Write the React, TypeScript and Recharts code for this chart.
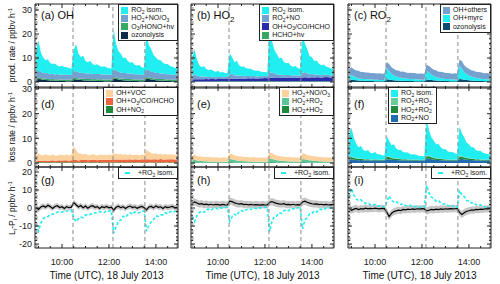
import React from "react";
import { ComposedChart, Area, Line, XAxis, YAxis, ReferenceLine } from "recharts";

const FONT = "'Liberation Sans', Arial, Helvetica, sans-serif";

// time grid (hours UTC)
const times = [
  8.9, 9.0, 9.1, 9.2, 9.3, 9.4, 9.5, 9.6, 9.7, 9.8, 9.9, 10.0, 10.1, 10.2, 10.3, 10.4,
  10.5, 10.6, 10.7, 10.8, 10.9, 11.0, 11.1, 11.2, 11.3, 11.4, 11.5, 11.6, 11.7, 11.8, 11.9, 12.0, 12.1,
  12.2, 12.3, 12.4, 12.5, 12.6, 12.7, 12.8, 12.9, 13.0, 13.1, 13.2, 13.3, 13.4, 13.5,
  13.6, 13.7, 13.8, 13.9, 14.0, 14.1, 14.2, 14.3, 14.4, 14.5, 14.6, 14.7, 14.8, 14.9,
];

// flight leg boundaries (dashed lines)
const legBounds = [8.93, 10.47, 12.17, 13.53, 14.9];
const timeDomain = [8.85, 14.94];
const timeTicks = [10, 12, 14];
const timeMinor = [9, 9.5, 10.5, 11, 11.5, 12.5, 13, 13.5, 14.5];

const rateTicks = [0, 10, 20, 30];
const rateMinorTop = [-2, 2, 4, 6, 8, 12, 14, 16, 18, 22, 24, 26, 28, 32];
const rateMinorMid = [2, 4, 6, 8, 12, 14, 16, 18, 22, 24, 26, 28];
const diffTicks = [-20, -10, 0, 10, 20];
const diffMinor = [-18, -16, -14, -12, -8, -6, -4, -2, 2, 4, 6, 8, 12, 14, 16, 18];

// (a) OH production
const aOzo = [
  1.0, 1.3, 1.1, 0.9, 0.8, 0.7, 0.6, 0.6, 0.5, 0.5, 0.4, 0.4, 0.4, 0.3, 0.3, 0.3,
  1.2, 1.0, 0.9, 0.8, 0.7, 0.6, 0.6, 0.5, 0.5, 0.5, 0.4, 0.4, 0.4, 0.3, 0.3, 0.3, 0.3,
  1.4, 1.2, 1.0, 0.8, 0.7, 0.6, 0.5, 0.5, 0.4, 0.4, 0.4, 0.3, 0.3, 0.3,
  1.5, 1.3, 1.0, 0.9, 0.7, 0.6, 0.6, 0.5, 0.5, 0.4, 0.4, 0.3, 0.3, 0.3,
];
const aPhot = [
  0.5, 0.6, 0.6, 0.5, 0.6, 0.6, 0.5, 0.6, 0.6, 0.6, 0.5, 0.6, 0.6, 0.6, 0.6, 0.6,
  0.6, 0.7, 0.6, 0.6, 0.7, 0.6, 0.6, 0.7, 0.6, 0.7, 0.6, 0.7, 0.7, 0.6, 0.7, 0.7, 0.6,
  0.7, 0.7, 0.6, 0.7, 0.7, 0.6, 0.7, 0.7, 0.7, 0.6, 0.7, 0.7, 0.6, 0.7,
  0.7, 0.6, 0.7, 0.7, 0.6, 0.7, 0.6, 0.7, 0.6, 0.6, 0.7, 0.6, 0.6, 0.6,
];
const aHo2 = [
  2.4, 2.8, 2.6, 2.3, 2.2, 2.4, 2.1, 2.2, 2.0, 2.2, 2.1, 2.0, 2.2, 2.0, 2.1, 2.0,
  2.6, 2.9, 2.6, 2.4, 2.5, 2.3, 2.2, 2.4, 2.2, 2.1, 2.3, 2.2, 2.0, 2.2, 2.1, 2.0, 2.1,
  2.8, 3.1, 2.7, 2.5, 2.4, 2.5, 2.3, 2.2, 2.4, 2.2, 2.1, 2.2, 2.0, 2.1,
  2.9, 3.0, 2.7, 2.6, 2.4, 2.5, 2.3, 2.3, 2.2, 2.2, 2.1, 2.2, 2.0, 2.1,
];
const aIsom = [
  9.5, 12.5, 8.0, 6.5, 5.5, 5.8, 4.6, 4.2, 4.5, 3.6, 3.5, 3.8, 3.0, 3.2, 2.8, 2.6,
  9.0, 11.2, 7.8, 6.6, 7.0, 5.2, 4.8, 5.3, 4.2, 3.8, 4.1, 3.4, 3.3, 3.5, 2.9, 2.7, 2.6,
  17.0, 11.0, 8.6, 7.9, 6.2, 6.5, 5.2, 4.6, 4.8, 3.9, 3.7, 3.9, 3.1, 2.9,
  14.4, 10.5, 9.2, 7.0, 6.5, 5.4, 5.6, 4.5, 4.2, 4.3, 3.5, 3.3, 3.0, 2.8,
];

// (b) HO2 production
const bHcho = [
  0.2, 0.2, 0.2, 0.3, 0.2, 0.2, 0.3, 0.2, 0.2, 0.3, 0.2, 0.3, 0.2, 0.3, 0.3, 0.2,
  0.3, 0.3, 0.2, 0.3, 0.3, 0.3, 0.2, 0.3, 0.3, 0.3, 0.3, 0.2, 0.3, 0.3, 0.3, 0.3, 0.3,
  0.3, 0.3, 0.3, 0.3, 0.2, 0.3, 0.3, 0.3, 0.3, 0.3, 0.2, 0.3, 0.3, 0.3,
  0.3, 0.3, 0.3, 0.2, 0.3, 0.3, 0.3, 0.3, 0.2, 0.3, 0.3, 0.3, 0.2, 0.3,
];
const bOh = [
  0.8, 0.9, 0.9, 0.8, 0.9, 0.9, 1.0, 0.9, 1.0, 1.0, 0.9, 1.0, 1.0, 1.1, 1.0, 1.1,
  1.1, 1.2, 1.1, 1.1, 1.2, 1.2, 1.1, 1.2, 1.3, 1.2, 1.3, 1.3, 1.2, 1.3, 1.3, 1.4, 1.3,
  1.4, 1.5, 1.4, 1.4, 1.5, 1.5, 1.4, 1.5, 1.6, 1.5, 1.5, 1.6, 1.5, 1.6,
  1.6, 1.7, 1.6, 1.6, 1.7, 1.6, 1.7, 1.7, 1.6, 1.7, 1.8, 1.7, 1.7, 1.8,
];
const bRo2no = [
  1.6, 2.0, 1.6, 1.3, 1.2, 1.1, 1.0, 1.0, 0.9, 1.0, 0.9, 0.8, 0.9, 0.8, 0.8, 0.8,
  1.8, 1.9, 1.5, 1.3, 1.2, 1.1, 1.1, 1.0, 1.0, 0.9, 0.9, 0.9, 0.8, 0.9, 0.8, 0.8, 0.8,
  2.2, 2.3, 1.8, 1.5, 1.3, 1.2, 1.1, 1.1, 1.0, 1.0, 0.9, 0.9, 0.9, 0.8,
  2.0, 2.2, 1.7, 1.4, 1.3, 1.2, 1.1, 1.0, 1.0, 1.0, 0.9, 0.9, 0.8, 0.8,
];
const bIsom = [
  8.0, 10.4, 6.8, 4.6, 4.0, 4.4, 3.1, 2.8, 3.2, 2.4, 2.2, 2.6, 1.9, 2.0, 1.7, 1.5,
  8.8, 7.0, 5.4, 6.2, 4.3, 3.8, 4.1, 3.2, 2.9, 3.1, 2.4, 2.3, 2.5, 1.9, 1.8, 1.7, 1.6,
  19.0, 13.0, 9.8, 8.6, 6.9, 7.2, 5.6, 4.9, 5.1, 4.0, 3.8, 3.9, 3.1, 2.8,
  16.0, 11.8, 10.2, 7.6, 7.0, 5.6, 5.9, 4.6, 4.2, 4.3, 3.5, 3.2, 2.9, 2.7,
];

// (c) RO2 production
const cOzo = [
  0.8, 0.9, 0.8, 0.7, 0.6, 0.5, 0.5, 0.5, 0.4, 0.4, 0.4, 0.3, 0.3, 0.3, 0.3, 0.3,
  1.1, 1.0, 0.8, 0.7, 0.6, 0.6, 0.5, 0.5, 0.4, 0.4, 0.4, 0.4, 0.3, 0.3, 0.3, 0.3, 0.3,
  1.0, 0.9, 0.8, 0.7, 0.6, 0.5, 0.5, 0.4, 0.4, 0.4, 0.3, 0.3, 0.3, 0.3,
  1.3, 1.1, 0.9, 0.8, 0.7, 0.6, 0.5, 0.5, 0.4, 0.4, 0.4, 0.3, 0.3, 0.3,
];
const cMyrc = [
  1.6, 2.0, 1.5, 1.2, 1.0, 0.9, 0.8, 0.8, 0.7, 0.7, 0.6, 0.6, 0.6, 0.5, 0.5, 0.5,
  4.8, 3.6, 2.6, 2.0, 1.7, 1.5, 1.3, 1.2, 1.1, 1.0, 0.9, 0.8, 0.8, 0.7, 0.7, 0.6, 0.6,
  3.8, 3.0, 2.3, 1.8, 1.5, 1.3, 1.2, 1.0, 0.9, 0.8, 0.8, 0.7, 0.7, 0.6,
  5.5, 4.5, 3.2, 2.5, 2.0, 1.7, 1.5, 1.3, 1.2, 1.0, 0.9, 0.8, 0.8, 0.7,
];
const cOther = [
  3.0, 3.2, 3.0, 2.9, 3.1, 2.8, 2.9, 2.7, 2.9, 2.6, 2.8, 2.7, 2.6, 2.8, 2.6, 2.7,
  2.4, 2.9, 2.7, 2.8, 2.6, 2.7, 2.5, 2.7, 2.6, 2.4, 2.6, 2.5, 2.7, 2.4, 2.5, 2.6, 2.4,
  2.4, 2.8, 2.7, 2.6, 2.8, 2.5, 2.6, 2.7, 2.4, 2.6, 2.5, 2.4, 2.6, 2.5,
  2.6, 3.0, 2.9, 2.7, 2.8, 2.6, 2.7, 2.5, 2.6, 2.7, 2.4, 2.5, 2.6, 2.4,
];

// (d) OH loss
const dNo2 = [
  0.3, 0.3, 0.3, 0.2, 0.3, 0.3, 0.3, 0.3, 0.2, 0.3, 0.3, 0.3, 0.3, 0.3, 0.2, 0.3,
  0.3, 0.3, 0.2, 0.3, 0.3, 0.3, 0.2, 0.3, 0.3, 0.3, 0.2, 0.3, 0.3, 0.2, 0.3, 0.3, 0.2,
  0.3, 0.2, 0.3, 0.3, 0.2, 0.3, 0.2, 0.3, 0.2, 0.3, 0.2, 0.2, 0.3, 0.2,
  0.3, 0.2, 0.2, 0.3, 0.2, 0.2, 0.3, 0.2, 0.2, 0.2, 0.3, 0.2, 0.2, 0.2,
];
const dInorg = [
  0.6, 0.7, 0.6, 0.7, 0.7, 0.6, 0.7, 0.8, 0.7, 0.7, 0.8, 0.7, 0.8, 0.8, 0.7, 0.8,
  0.9, 0.9, 0.8, 0.9, 0.9, 1.0, 0.9, 0.9, 1.0, 1.0, 0.9, 1.0, 1.0, 1.1, 1.0, 1.0, 1.1,
  1.1, 1.2, 1.1, 1.1, 1.2, 1.1, 1.2, 1.2, 1.1, 1.2, 1.2, 1.1, 1.2, 1.2,
  1.2, 1.3, 1.2, 1.2, 1.3, 1.2, 1.3, 1.2, 1.2, 1.3, 1.2, 1.3, 1.2, 1.2,
];
const dVoc = [
  2.6, 2.9, 2.4, 2.2, 2.6, 2.3, 2.1, 2.5, 2.2, 2.0, 2.4, 2.3, 2.1, 2.4, 2.2, 2.3,
  5.6, 4.2, 3.0, 2.6, 2.3, 2.5, 2.1, 2.0, 2.3, 2.1, 1.9, 2.2, 2.0, 2.1, 1.9, 2.2, 2.0,
  2.6, 2.4, 2.1, 2.3, 2.0, 2.2, 1.9, 2.1, 2.0, 1.8, 2.1, 1.9, 2.0, 1.9,
  3.8, 3.2, 2.6, 2.3, 2.5, 2.1, 2.2, 2.0, 2.3, 1.9, 2.1, 2.0, 1.9, 2.1,
];

// (e) HO2 loss
const eHo2 = [
  0.2, 0.3, 0.2, 0.2, 0.2, 0.2, 0.2, 0.2, 0.2, 0.2, 0.2, 0.2, 0.1, 0.2, 0.2, 0.2,
  0.3, 0.3, 0.2, 0.2, 0.2, 0.2, 0.2, 0.2, 0.2, 0.2, 0.2, 0.2, 0.2, 0.2, 0.2, 0.2, 0.2,
  0.3, 0.3, 0.3, 0.2, 0.2, 0.2, 0.2, 0.2, 0.2, 0.2, 0.2, 0.2, 0.2, 0.2,
  0.3, 0.3, 0.2, 0.2, 0.2, 0.2, 0.2, 0.2, 0.2, 0.2, 0.2, 0.2, 0.2, 0.2,
];
const eRo2 = [
  0.8, 1.0, 0.8, 0.7, 0.6, 0.5, 0.5, 0.4, 0.4, 0.4, 0.3, 0.3, 0.3, 0.3, 0.3, 0.3,
  1.3, 1.2, 1.0, 0.8, 0.7, 0.6, 0.5, 0.5, 0.4, 0.4, 0.4, 0.3, 0.3, 0.3, 0.3, 0.3, 0.3,
  1.5, 1.3, 1.1, 0.9, 0.8, 0.7, 0.6, 0.5, 0.5, 0.4, 0.4, 0.4, 0.3, 0.3,
  1.3, 1.2, 1.0, 0.9, 0.8, 0.7, 0.6, 0.5, 0.5, 0.4, 0.4, 0.4, 0.3, 0.3,
];
const eNo = [
  2.0, 2.1, 1.9, 1.8, 1.9, 1.7, 1.8, 1.9, 1.7, 1.6, 1.8, 1.7, 1.6, 1.8, 1.7, 1.6,
  2.4, 2.2, 2.0, 1.9, 1.8, 1.9, 1.7, 1.8, 1.7, 1.6, 1.8, 1.7, 1.6, 1.7, 1.6, 1.7, 1.6,
  2.6, 2.4, 2.1, 2.0, 1.9, 1.8, 1.9, 1.7, 1.8, 1.7, 1.6, 1.7, 1.6, 1.7,
  2.4, 2.3, 2.1, 2.0, 1.9, 1.8, 1.9, 1.7, 1.8, 1.6, 1.7, 1.6, 1.7, 1.6,
];

// (f) RO2 loss
const fNo = [
  1.2, 1.5, 1.3, 1.2, 1.1, 1.2, 1.1, 1.0, 1.1, 1.0, 1.0, 1.1, 1.0, 0.9, 1.0, 1.0,
  1.4, 1.5, 1.3, 1.2, 1.2, 1.1, 1.1, 1.0, 1.1, 1.0, 1.0, 1.0, 0.9, 1.0, 0.9, 1.0, 0.9,
  1.6, 1.8, 1.5, 1.3, 1.2, 1.2, 1.1, 1.1, 1.0, 1.0, 1.0, 0.9, 1.0, 0.9,
  1.5, 1.7, 1.4, 1.3, 1.2, 1.2, 1.1, 1.0, 1.1, 1.0, 1.0, 0.9, 0.9, 0.9,
];
const fHo2 = [
  0.7, 0.9, 0.7, 0.6, 0.5, 0.5, 0.4, 0.4, 0.4, 0.3, 0.3, 0.3, 0.3, 0.3, 0.2, 0.2,
  1.0, 0.9, 0.7, 0.6, 0.5, 0.5, 0.4, 0.4, 0.4, 0.3, 0.3, 0.3, 0.3, 0.3, 0.2, 0.2, 0.2,
  1.2, 1.0, 0.8, 0.7, 0.6, 0.5, 0.5, 0.4, 0.4, 0.3, 0.3, 0.3, 0.3, 0.3,
  1.1, 1.0, 0.8, 0.7, 0.6, 0.5, 0.5, 0.4, 0.4, 0.3, 0.3, 0.3, 0.3, 0.3,
];
const fRoro = [
  0.2, 0.3, 0.2, 0.2, 0.2, 0.2, 0.1, 0.2, 0.1, 0.1, 0.1, 0.1, 0.1, 0.1, 0.1, 0.1,
  0.3, 0.3, 0.2, 0.2, 0.2, 0.2, 0.1, 0.1, 0.1, 0.1, 0.1, 0.1, 0.1, 0.1, 0.1, 0.1, 0.1,
  0.4, 0.3, 0.3, 0.2, 0.2, 0.2, 0.2, 0.1, 0.1, 0.1, 0.1, 0.1, 0.1, 0.1,
  0.4, 0.3, 0.3, 0.2, 0.2, 0.2, 0.1, 0.1, 0.1, 0.1, 0.1, 0.1, 0.1, 0.1,
];
const fIsom = [
  9.2, 11.6, 7.9, 5.8, 4.6, 5.1, 3.7, 3.3, 3.7, 2.8, 2.6, 3.0, 2.2, 2.3, 1.9, 1.8,
  8.2, 6.4, 5.0, 5.6, 4.0, 3.5, 3.8, 3.0, 2.7, 2.9, 2.2, 2.1, 2.3, 1.8, 1.7, 1.6, 1.5,
  14.5, 10.2, 7.8, 6.9, 5.6, 5.9, 4.6, 4.0, 4.2, 3.3, 3.1, 3.2, 2.6, 2.3,
  11.8, 9.0, 7.9, 6.0, 5.6, 4.5, 4.7, 3.7, 3.4, 3.5, 2.8, 2.6, 2.4, 2.2,
];

// (g)-(i) L - P, black = base model, cyan = with RO2 isomerisation
const gLp = [
  0.2, -0.8, 0.6, 1.2, 0.4, 1.5, 0.8, -0.2, 0.9, 1.3, 0.3, 0.7, -0.3, 0.8, 0.2, 0.5,
  3.0, 1.8, 0.6, 1.4, 0.2, 1.1, -0.1, 0.9, 1.3, 0.4, 0.8, -0.2, 0.7, 0.3, 0.9, 0.1, 0.5,
  -1.2, 0.4, 1.0, 0.2, 0.8, -0.3, 0.6, 1.1, 0.3, 0.7, -0.1, 0.5, 0.9, 0.2,
  -1.0, 0.6, 0.9, 0.1, 1.2, 0.4, 0.7, -0.2, 0.8, 0.3, 0.6, 0.9, 0.2, 0.4,
];
const gIso = [
  -9.0, -12.8, -8.2, -6.0, -5.0, -4.8, -3.6, -3.4, -3.0, -2.2, -2.4, -2.2, -2.0, -1.6, -1.5, -1.2,
  -5.2, -7.6, -6.0, -5.0, -5.4, -3.8, -3.8, -3.6, -2.8, -2.6, -2.6, -2.2, -2.0, -2.4, -1.6, -1.8, -1.4,
  -14.0, -10.6, -7.2, -6.8, -4.6, -5.2, -3.8, -2.6, -3.6, -2.2, -2.6, -2.6, -1.6, -1.8,
  -12.8, -9.6, -7.6, -6.4, -4.4, -4.6, -3.8, -3.8, -2.6, -3.2, -2.0, -1.8, -2.0, -1.6,
];
const hLp = [
  2.6, 3.4, 2.8, 2.2, 2.4, 1.9, 2.2, 1.8, 2.1, 1.7, 2.0, 1.9, 1.6, 2.0, 1.8, 1.7,
  3.8, 3.6, 2.9, 2.5, 2.2, 2.4, 1.9, 2.1, 1.8, 2.0, 1.7, 1.9, 1.8, 1.6, 1.9, 1.7, 1.8,
  3.2, 3.6, 3.0, 2.6, 2.3, 2.1, 2.4, 1.9, 2.0, 1.8, 2.1, 1.7, 1.9, 1.8,
  3.4, 3.8, 3.2, 2.7, 2.4, 2.2, 2.3, 1.9, 2.1, 1.8, 2.0, 1.7, 1.9, 1.8,
];
const hIso = [
  -4.8, -7.6, -4.2, -2.6, -1.8, -2.4, -0.8, -0.6, -1.2, -0.2, 0.0, -0.6, 0.2, 0.0, 0.4, 0.4,
  -7.4, -4.8, -3.4, -4.2, -1.8, -1.4, -2.0, -0.8, -0.6, -0.8, 0.0, -0.2, -0.4, 0.2, 0.2, 0.4, 0.4,
  -13.0, -7.2, -4.8, -4.4, -2.6, -3.0, -1.6, -1.0, -1.6, -0.4, -0.4, -0.6, 0.2, 0.4,
  -11.6, -6.6, -5.4, -3.2, -3.0, -1.6, -2.2, -0.8, -0.6, -1.0, 0.0, 0.0, 0.2, 0.4,
];
const iLp = [
  -0.4, -1.2, -0.6, -0.2, -0.8, -0.3, -0.6, -0.1, -0.5, -0.2, -0.4, -0.1, -0.3, -0.5, -0.2, -0.3,
  -2.2, -4.8, -3.0, -2.0, -1.6, -1.2, -1.4, -0.8, -1.0, -0.6, -0.8, -0.5, -0.7, -0.4, -0.6, -0.3, -0.5,
  -1.6, -1.2, -0.8, -1.0, -0.6, -0.9, -0.5, -0.7, -0.4, -0.6, -0.3, -0.5, -0.4, -0.3,
  -2.4, -3.6, -2.6, -1.8, -1.5, -1.1, -1.2, -0.8, -0.9, -0.6, -0.7, -0.4, -0.5, -0.3,
];
const iIso = [
  6.0, 10.8, 7.2, 5.0, 4.2, 4.6, 3.0, 2.6, 2.9, 1.8, 1.6, 2.0, 1.0, 1.2, 0.8, 0.6,
  3.2, 6.8, 4.2, 3.4, 3.8, 2.2, 2.0, 2.4, 1.4, 1.2, 1.5, 0.8, 0.8, 1.0, 0.4, 0.4, 0.3,
  12.6, 8.4, 6.0, 5.4, 3.8, 4.2, 2.8, 2.2, 2.4, 1.4, 1.2, 1.4, 0.6, 0.4,
  9.8, 7.2, 6.4, 4.2, 4.0, 2.8, 3.0, 1.8, 1.6, 1.8, 0.8, 0.6, 0.4, 0.2,
];
// half-width of the grey uncertainty band
const errG = 1.5;
const errH = 2.0;
const errI = 2.0;

const C = {
  cyan: "#20eef0",
  steel: "#74a1cf",
  green: "#3aa864",
  navy: "#0d2b48",
  indigo: "#2a2aaa",
  teal: "#0f4b6c",
  peach: "#fbd19e",
  red: "#ef6440",
  dgreen: "#1f8a3c",
  mint: "#5cc59a",
  blue: "#1f6db0",
};

const COLS = [35, 191, 348];
const PW = 143;
const ROWS = [
  { y: 4, h: 84 },
  { y: 87, h: 80 },
  { y: 167, h: 81 },
];
const ML = 40, MR = 4, MT = 4, MB = 22;
const AX = "#222";

const sortNum = (a: number[]) => [...a].sort((p, q) => p - q);

// one tick renderer per side: long ticks for major values, short for minor, pointing inwards
function tickFor(side: string, majors: number[], showLabel: boolean, fmt?: (v: number) => string) {
  return (props: any) => {
    const { x, y, payload } = props;
    const v = payload.value;
    const major = majors.includes(v);
    const len = major ? 4 : 2;
    let line;
    if (side === "left") line = <line x1={x} x2={x + len} y1={y} y2={y} stroke={AX} />;
    else if (side === "right") line = <line x1={x} x2={x - len} y1={y} y2={y} stroke={AX} />;
    else if (side === "top") line = <line x1={x} x2={x} y1={y} y2={y + len} stroke={AX} />;
    else line = <line x1={x} x2={x} y1={y} y2={y - len} stroke={AX} />;
    let label = null;
    if (showLabel && major) {
      const txt = fmt ? fmt(v) : String(v);
      label =
        side === "left" ? (
          <text x={x - 3} y={y} dy="0.35em" textAnchor="end" fontSize={9} fill="#222" fontFamily={FONT}>{txt}</text>
        ) : (
          <text x={x} y={y + 17} textAnchor="middle" fontSize={9} fill="#222" fontFamily={FONT}>{txt}</text>
        );
    }
    return (
      <g>
        {line}
        {label}
      </g>
    );
  };
}

function Panel({ col, row, domain, ticks, minor, data, children }: any) {
  const x = COLS[col];
  const { y, h } = ROWS[row];
  const yLabels = col === 0;
  const xLabels = row === 2;
  const yAll = sortNum([...ticks, ...minor]);
  const tAll = sortNum([...timeTicks, ...timeMinor]);
  const common = { allowDataOverflow: true, interval: 0 as const, tickSize: 0, tickMargin: 0, tickLine: false, stroke: AX };
  return (
    <div style={{ position: "absolute", left: x - ML, top: y - MT }}>
      <ComposedChart
        width={PW + ML + MR}
        height={h + MT + MB}
        data={data}
        margin={{ top: MT - 1, right: MR - 1, bottom: MB - 1, left: ML - 1 }}
      >
        <XAxis dataKey="t" type="number" domain={timeDomain} ticks={tAll} height={1} {...common}
          tick={tickFor("bottom", timeTicks, xLabels, (v) => `${v}:00`)} />
        <XAxis xAxisId="top" dataKey="t" orientation="top" type="number" domain={timeDomain} ticks={tAll} height={1}
          {...common} tick={tickFor("top", timeTicks, false)} />
        <YAxis type="number" domain={domain} ticks={yAll} width={1} {...common}
          tick={tickFor("left", ticks, yLabels)} />
        <YAxis yAxisId="right" orientation="right" type="number" domain={domain} ticks={yAll} width={1} {...common}
          tick={tickFor("right", ticks, false)} />
        {children}
        {legBounds.map((b) => (
          <ReferenceLine key={b} x={b} stroke="#8a8a8a" strokeDasharray="4 3" strokeWidth={1} />
        ))}
      </ComposedChart>
    </div>
  );
}

function stack(keys: string[], colors: string[]) {
  return keys.map((k, i) => (
    <Area key={k} type="linear" dataKey={k} stackId="s" fill={colors[i]} fillOpacity={1}
      stroke="none" strokeWidth={0} dot={false} activeDot={false} isAnimationActive={false} />
  ));
}

function diffSeries() {
  return [
    <Area key="band" type="linear" dataKey="band" fill="#c6c6c6" fillOpacity={1} stroke="none"
      dot={false} activeDot={false} isAnimationActive={false} />,
    <Line key="iso" type="linear" dataKey="iso" stroke={C.cyan} strokeWidth={1.6} strokeDasharray="3 2"
      dot={false} activeDot={false} isAnimationActive={false} />,
    <Line key="lp" type="linear" dataKey="lp" stroke="#000" strokeWidth={1.2}
      dot={false} activeDot={false} isAnimationActive={false} />,
  ];
}

const Sub = ({ c }: { c: string }) => (
  <span style={{ fontSize: "0.72em", position: "relative", top: "0.3em" }}>{c}</span>
);

function Legend({ right, left, top, items }: any) {
  const style: React.CSSProperties = {
    position: "absolute", top, background: "#fff", border: "1px solid #222",
    padding: "1px 3px 1px 2px", fontFamily: FONT, fontSize: 7, lineHeight: "8.3px",
    color: "#111", whiteSpace: "nowrap",
  };
  if (right !== undefined) style.right = right;
  else style.left = left;
  return (
    <div style={style}>
      {items.map((it: any, i: number) => (
        <div key={i} style={{ display: "flex", alignItems: "center" }}>
          {it.dash ? (
            <span style={{ width: 5, height: 2, background: it.color, margin: "0 8px 0 4px", display: "inline-block" }} />
          ) : (
            <span style={{ width: 7, height: 7, background: it.color, marginRight: 3, display: "inline-block" }} />
          )}
          <span>{it.label}</span>
        </div>
      ))}
    </div>
  );
}

const isoItem = [{ color: C.cyan, dash: true, label: <>+RO<Sub c="2" /> isom.</> }];

export default function App() {
  const rowsA = times.map((t, i) => ({ t, ozo: aOzo[i], phot: aPhot[i], ho2: aHo2[i], isom: aIsom[i] }));
  const rowsB = times.map((t, i) => ({ t, hcho: bHcho[i], oh: bOh[i], ro2no: bRo2no[i], isom: bIsom[i] }));
  const rowsC = times.map((t, i) => ({ t, ozo: cOzo[i], myrc: cMyrc[i], other: cOther[i] }));
  const rowsD = times.map((t, i) => ({ t, no2: dNo2[i], inorg: dInorg[i], voc: dVoc[i] }));
  const rowsE = times.map((t, i) => ({ t, ho2: eHo2[i], ro2: eRo2[i], no: eNo[i] }));
  const rowsF = times.map((t, i) => ({ t, no: fNo[i], ho2: fHo2[i], roro: fRoro[i], isom: fIsom[i] }));
  const rowsG = times.map((t, i) => ({ t, lp: gLp[i], iso: gIso[i], band: [gLp[i] - errG, gLp[i] + errG] }));
  const rowsH = times.map((t, i) => ({ t, lp: hLp[i], iso: hIso[i], band: [hLp[i] - errH, hLp[i] + errH] }));
  const rowsI = times.map((t, i) => ({ t, lp: iLp[i], iso: iIso[i], band: [iLp[i] - errI, iLp[i] + errI] }));

  const topDom = [-2.5, 32.5];
  const midDom = [-1.6, 30.8];
  const botDom = [-22.2, 22.8];

  return (
    <div style={{ position: "absolute", left: 0, top: 0, width: 500, height: 284, background: "#fff", fontFamily: FONT }}>
      <Panel col={0} row={0} domain={topDom} ticks={rateTicks} minor={rateMinorTop} data={rowsA}>
        {stack(["ozo", "phot", "ho2", "isom"], [C.navy, C.green, C.steel, C.cyan])}
      </Panel>
      <Panel col={1} row={0} domain={topDom} ticks={rateTicks} minor={rateMinorTop} data={rowsB}>
        {stack(["hcho", "oh", "ro2no", "isom"], [C.green, C.indigo, C.steel, C.cyan])}
      </Panel>
      <Panel col={2} row={0} domain={topDom} ticks={rateTicks} minor={rateMinorTop} data={rowsC}>
        {stack(["ozo", "myrc", "other"], [C.teal, C.cyan, C.steel])}
      </Panel>
      <Panel col={0} row={1} domain={midDom} ticks={rateTicks} minor={rateMinorMid} data={rowsD}>
        {stack(["no2", "inorg", "voc"], [C.dgreen, C.red, C.peach])}
      </Panel>
      <Panel col={1} row={1} domain={midDom} ticks={rateTicks} minor={rateMinorMid} data={rowsE}>
        {stack(["ho2", "ro2", "no"], [C.dgreen, C.mint, C.peach])}
      </Panel>
      <Panel col={2} row={1} domain={midDom} ticks={rateTicks} minor={rateMinorMid} data={rowsF}>
        {stack(["no", "ho2", "roro", "isom"], [C.blue, C.dgreen, "#66cc99", C.cyan])}
      </Panel>
      <Panel col={0} row={2} domain={botDom} ticks={diffTicks} minor={diffMinor} data={rowsG}>
        {diffSeries()}
      </Panel>
      <Panel col={1} row={2} domain={botDom} ticks={diffTicks} minor={diffMinor} data={rowsH}>
        {diffSeries()}
      </Panel>
      <Panel col={2} row={2} domain={botDom} ticks={diffTicks} minor={diffMinor} data={rowsI}>
        {diffSeries()}
      </Panel>

      <svg width={500} height={284} style={{ position: "absolute", left: 0, top: 0, pointerEvents: "none" }}>
        <g fontFamily={FONT} fill="#111">
          <text x={41} y={19} fontSize={11}>(a) OH</text>
          <text x={197} y={19} fontSize={11}>(b) HO<tspan dy={3} fontSize={8}>2</tspan></text>
          <text x={354} y={19} fontSize={11}>(c) RO<tspan dy={3} fontSize={8}>2</tspan></text>
          <text x={41} y={108} fontSize={11}>(d)</text>
          <text x={197} y={108} fontSize={11}>(e)</text>
          <text x={354} y={108} fontSize={11}>(f)</text>
          <text x={41} y={184} fontSize={11}>(g)</text>
          <text x={197} y={184} fontSize={11}>(h)</text>
          <text x={354} y={184} fontSize={11}>(i)</text>

          <text transform="translate(15,45) rotate(-90)" textAnchor="middle" fontSize={8.5}>
            prod. rate / ppbv h<tspan dy={-3} fontSize={6}>-1</tspan>
          </text>
          <text transform="translate(15,127) rotate(-90)" textAnchor="middle" fontSize={8.5}>
            loss rate / ppbv h<tspan dy={-3} fontSize={6}>-1</tspan>
          </text>
          <text transform="translate(15,208) rotate(-90)" textAnchor="middle" fontSize={8.5}>
            L<tspan dy={2} fontSize={6}>i</tspan><tspan dy={-2}>-P</tspan><tspan dy={2} fontSize={6}>i</tspan>
            <tspan dy={-2}> / ppbv h</tspan><tspan dy={-3} fontSize={6}>-1</tspan>
          </text>

          {COLS.map((cx) => (
            <text key={cx} x={cx + PW / 2} y={279} textAnchor="middle" fontSize={10}>
              Time (UTC), 18 July 2013
            </text>
          ))}
        </g>
      </svg>

      <Legend right={500 - 178} top={4} items={[
        { color: C.cyan, label: <>RO<Sub c="2" /> isom.</> },
        { color: C.steel, label: <>HO<Sub c="2" />+NO/O<Sub c="3" /></> },
        { color: C.green, label: <>O<Sub c="3" />/HONO+hv</> },
        { color: C.navy, label: "ozonolysis" },
      ]} />
      <Legend right={500 - 334} top={4} items={[
        { color: C.cyan, label: <>RO<Sub c="2" /> isom.</> },
        { color: C.steel, label: <>RO<Sub c="2" />+NO</> },
        { color: C.indigo, label: <>OH+O<Sub c="3" />/CO/HCHO</> },
        { color: C.green, label: "HCHO+hv" },
      ]} />
      <Legend right={500 - 491} top={4} items={[
        { color: C.steel, label: "OH+others" },
        { color: C.cyan, label: "OH+myrc" },
        { color: C.teal, label: "ozonolysis" },
      ]} />
      <Legend right={500 - 178} top={87} items={[
        { color: C.peach, label: "OH+VOC" },
        { color: C.red, label: <>OH+O<Sub c="3" />/CO/HCHO</> },
        { color: C.dgreen, label: <>OH+NO<Sub c="2" /></> },
      ]} />
      <Legend right={500 - 334} top={87} items={[
        { color: C.peach, label: <>HO<Sub c="2" />+NO/O<Sub c="3" /></> },
        { color: C.mint, label: <>HO<Sub c="2" />+RO<Sub c="2" /></> },
        { color: C.dgreen, label: <>HO<Sub c="2" />+HO<Sub c="2" /></> },
      ]} />
      <Legend left={388} top={87} items={[
        { color: C.cyan, label: <>RO<Sub c="2" /> isom.</> },
        { color: "#66cc99", label: <>RO<Sub c="2" />+RO<Sub c="2" /></> },
        { color: C.dgreen, label: <>HO<Sub c="2" />+RO<Sub c="2" /></> },
        { color: C.blue, label: <>RO<Sub c="2" />+NO</> },
      ]} />
      <Legend right={500 - 178} top={167} items={isoItem} />
      <Legend right={500 - 334} top={167} items={isoItem} />
      <Legend right={500 - 491} top={167} items={isoItem} />
    </div>
  );
}
